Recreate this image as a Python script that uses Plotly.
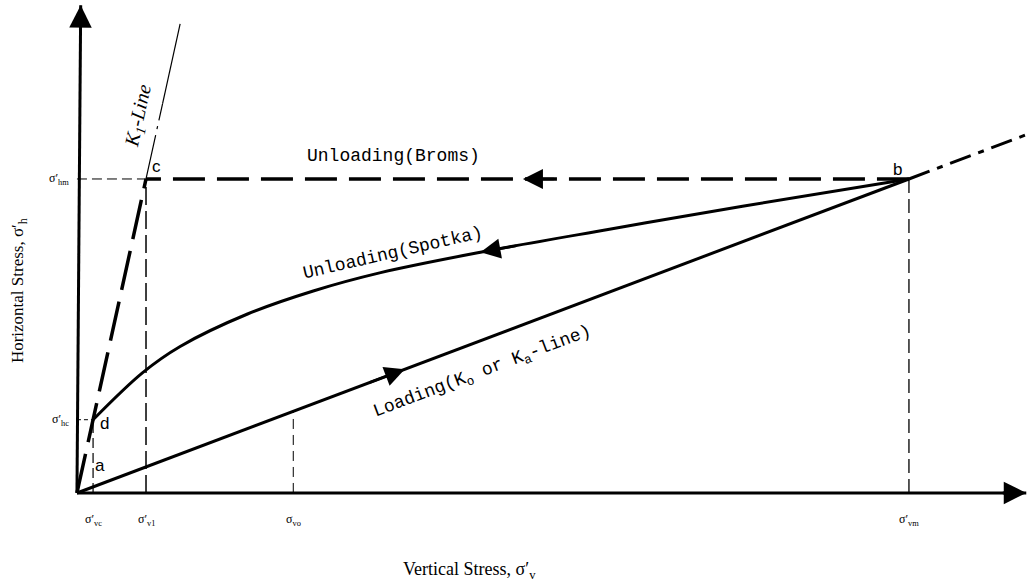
import plotly.graph_objects as go

# ---------------- data (stress units, arbitrary) ----------------
sigma_vm = 100.0      # vertical stress at point b
sigma_hm = 60.0       # horizontal stress at point b / c
sigma_vo = 26.0
sigma_v1 = 8.3        # vertical stress at point c
K0 = sigma_hm / sigma_vm          # loading line slope
K1 = sigma_hm / sigma_v1          # K1-line slope
sigma_hc = 14.0
sigma_vc = sigma_hc / K1          # point d on K1 line
x_axis_end = 114.1
y_axis_end = 93.2
k0_ext_end = 114.3
k1_top_x = 12.4
k1_break_x = 10.3

# Spotka unloading curve (from b back to d)
spotka_sv = [100.0, 80.0, 64.0, 48.5, 36.5, 28.4, 20.5, 12.4, 7.9, sigma_vc]
spotka_sh = [60.0, 54.8, 50.4, 46.0, 42.1, 38.6, 34.2, 28.0, 23.0, sigma_hc]

tick_x_vals = [sigma_vc, sigma_v1, sigma_vo, sigma_vm]
tick_x_text = ["σ′<sub>vc</sub>", "σ′<sub>v1</sub>", "σ<sub>vo</sub>", "σ′<sub>vm</sub>"]
tick_y_vals = [sigma_hm, sigma_hc]
tick_y_text = ["σ′<sub>hm</sub>", "σ′<sub>hc</sub>"]

fig = go.Figure()

def line(x, y, width, dash="solid", color="black", shape="linear"):
    fig.add_trace(go.Scatter(x=x, y=y, mode="lines", hoverinfo="skip",
                             line=dict(color=color, width=width, dash=dash, shape=shape)))

# axes
line([0, x_axis_end], [0, 0], 3)
line([0, 0.45], [0, y_axis_end], 3)

# thin guide lines
thin = "10px,5px"
line([0, sigma_v1], [sigma_hm, sigma_hm], 1, thin)
line([0, sigma_vc], [sigma_hc, sigma_hc], 1, "4px,3px")
line([sigma_vc, sigma_vc], [0, sigma_hc], 1.2, thin)
line([sigma_v1, sigma_v1], [0, sigma_hm], 1.5, "18px,6px")
line([sigma_vo, sigma_vo], [0, K0 * sigma_vo], 1, "10px,6px")
line([sigma_vm, sigma_vm], [0, sigma_hm], 1.3, "14px,6px")

# K1 line
line([0, sigma_v1], [0, sigma_hm], 3.5, "40px,12px")
line([sigma_v1, k1_break_x], [sigma_hm, K1 * k1_break_x], 1.2, "45px,6px,3px,6px")
line([k1_break_x, k1_top_x], [K1 * k1_break_x, K1 * k1_top_x], 1.2)

# Loading (K0) line and extension
line([0, sigma_vm], [0, sigma_hm], 3)
line([sigma_vm, k0_ext_end], [sigma_hm, K0 * k0_ext_end], 3, "22px,8px,6px,8px")

# Broms unloading
line([sigma_vm, sigma_v1], [sigma_hm, sigma_hm], 3.5, "32px,12px")

# Spotka unloading
line(spotka_sv, spotka_sh, 3, shape="spline")

# arrows
def arrow(x, y, ax, ay, w=2.5, s=1.6):
    fig.add_annotation(x=x, y=y, ax=ax, ay=ay, xref="x", yref="y", axref="x", ayref="y",
                       text="", showarrow=True, arrowhead=2, arrowsize=s, arrowwidth=w,
                       arrowcolor="black")

arrow(x_axis_end, 0, x_axis_end - 3, 0, 3, 1.5)
arrow(0.45, y_axis_end, 0.42, y_axis_end - 5, 3, 1.5)
arrow(53.6, sigma_hm, 57.5, sigma_hm)
arrow(39.4, K0 * 39.4, 35.0, K0 * 35.0)
arrow(48.5, 46.0, 53.0, 47.3)

serif = "Liberation Serif, Times New Roman, serif"
mono = "Liberation Mono, Courier New, monospace"
sans = "Liberation Sans, Arial, sans-serif"

def label(x, y, text, size=12, font=serif, angle=0, xanchor="center", yanchor="middle"):
    fig.add_annotation(x=x, y=y, xref="x", yref="y", text=text, showarrow=False,
                       textangle=angle, xanchor=xanchor, yanchor=yanchor,
                       font=dict(family=font, size=size, color="black"))

for xv, t in zip(tick_x_vals, tick_x_text):
    label(xv, -3.2, t, 12, yanchor="top")
for yv, t in zip(tick_y_vals, tick_y_text):
    label(-0.7, yv, t, 12, xanchor="right")

# point letters
label(2.8, 5.2, "a", 17, sans)
label(3.3, 13.3, "d", 17, sans)
label(9.6, 62.3, "c", 17, sans)
label(98.6, 61.8, "b", 17, sans)

# curve names
label(7.4, 72.0, "<i>K<sub>1</sub>-Line</i>", 20, serif, angle=-77.6)
label(38.1, 64.4, "Unloading(Broms)", 18, mono)
label(38.0, 45.9, "Unloading(Spotka)", 18, mono, angle=-13)
label(48.8, 23.1, "Loading(K<sub>o</sub> or K<sub>a</sub>-line)", 18, mono, angle=-20.7)

# axis titles
label(-6.95, 38.6, "Horizontal Stress, σ′<sub>h</sub>", 17, serif, angle=-90)
label(47.2, -14.9, "Vertical Stress, σ′<sub>v</sub>", 18, serif)

fig.update_layout(
    width=1033, height=581,
    margin=dict(l=0, r=0, t=0, b=0),
    paper_bgcolor="white", plot_bgcolor="white",
    showlegend=False,
    xaxis=dict(range=[-9.25, 114.91], visible=False, fixedrange=True),
    yaxis=dict(range=[-16.82, 94.2], visible=False, fixedrange=True),
)

fig.write_html("out.html", config={"displayModeBar": False},
               post_script="document.body.style.margin='0';")
